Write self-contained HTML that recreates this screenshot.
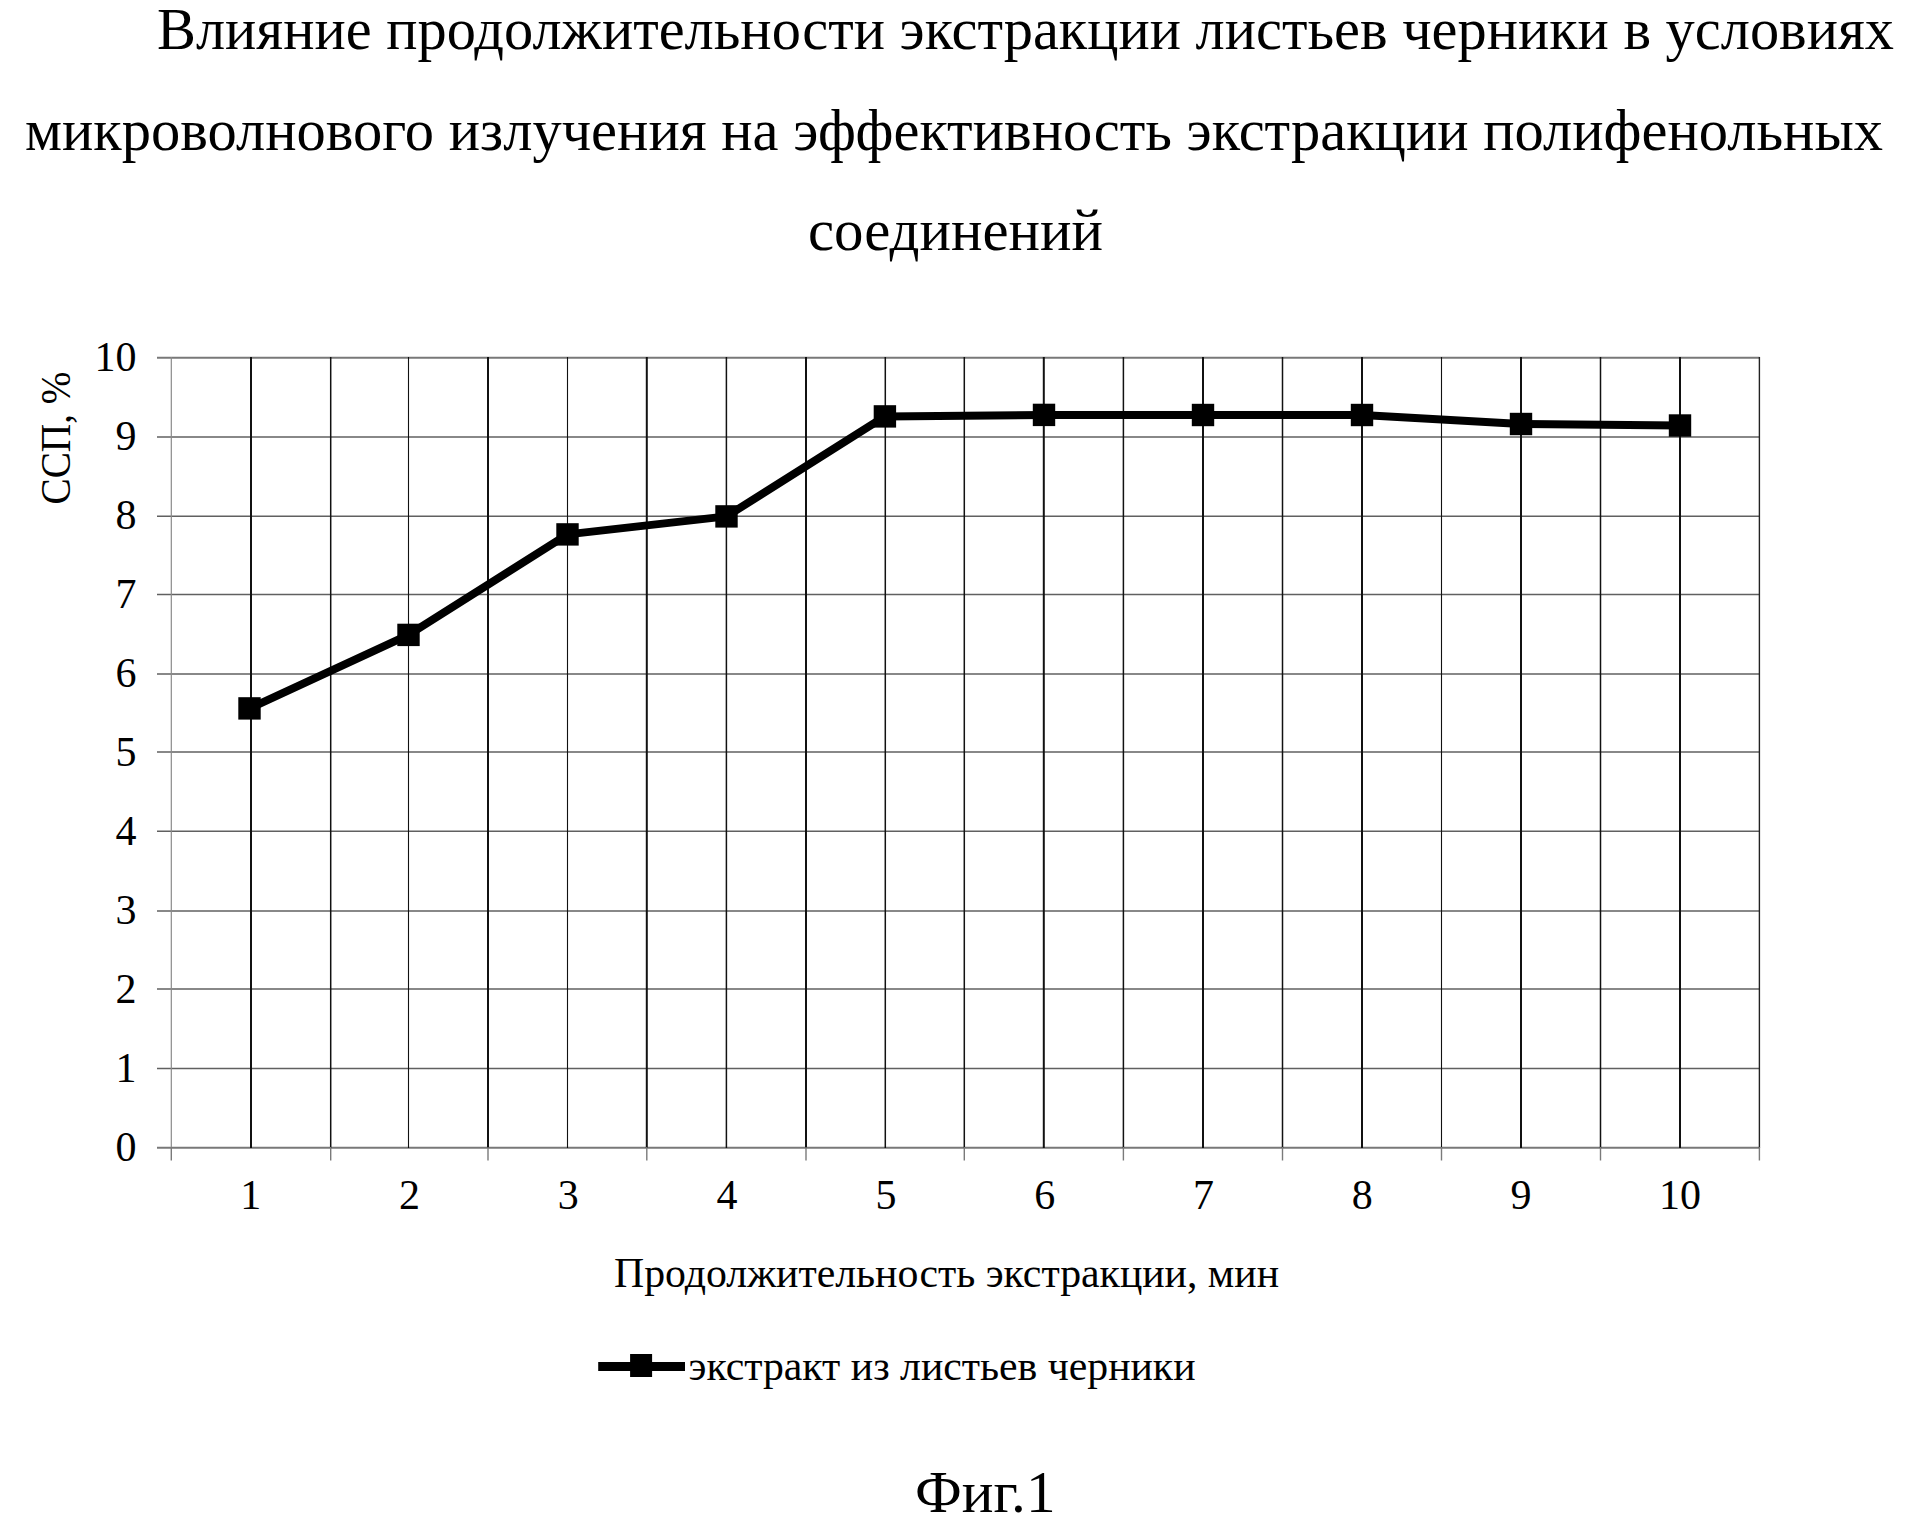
<!DOCTYPE html><html><head><meta charset="utf-8"><style>html,body{margin:0;padding:0;background:#fff;overflow:hidden;width:1908px;height:1524px;}svg{display:block;}text{font-family:"Liberation Serif",serif;fill:#000;}</style></head><body>
<svg width="1908" height="1524" viewBox="0 0 1908 1524">
<rect x="0" y="0" width="1908" height="1524" fill="#fff"/>
<text x="157" y="48.6" font-size="58.5" textLength="1737" lengthAdjust="spacingAndGlyphs">Влияние продолжительности экстракции листьев черники в условиях</text>
<text x="25" y="149.8" font-size="58.5" textLength="1858" lengthAdjust="spacingAndGlyphs">микроволнового излучения на эффективность экстракции полифенольных</text>
<text x="808" y="249.7" font-size="58.5" textLength="295" lengthAdjust="spacingAndGlyphs">соединений</text>
<line x1="157" y1="1147.80" x2="1759.5" y2="1147.80" stroke="#787878" stroke-width="2"/>
<line x1="157" y1="1068.50" x2="1759.5" y2="1068.50" stroke="#606060" stroke-width="1.5"/>
<line x1="157" y1="988.90" x2="1759.5" y2="988.90" stroke="#606060" stroke-width="1.5"/>
<line x1="157" y1="910.90" x2="1759.5" y2="910.90" stroke="#606060" stroke-width="1.5"/>
<line x1="157" y1="831.30" x2="1759.5" y2="831.30" stroke="#606060" stroke-width="1.5"/>
<line x1="157" y1="752.00" x2="1759.5" y2="752.00" stroke="#606060" stroke-width="1.5"/>
<line x1="157" y1="674.00" x2="1759.5" y2="674.00" stroke="#606060" stroke-width="1.5"/>
<line x1="157" y1="594.50" x2="1759.5" y2="594.50" stroke="#606060" stroke-width="1.5"/>
<line x1="157" y1="516.30" x2="1759.5" y2="516.30" stroke="#606060" stroke-width="1.5"/>
<line x1="157" y1="437.00" x2="1759.5" y2="437.00" stroke="#606060" stroke-width="1.5"/>
<line x1="157" y1="357.70" x2="1759.5" y2="357.70" stroke="#787878" stroke-width="2"/>
<line x1="171.30" y1="357" x2="171.30" y2="1148.8" stroke="#8a8a8a" stroke-width="1.2"/>
<line x1="251.00" y1="357" x2="251.00" y2="1148" stroke="#111" stroke-width="2"/>
<line x1="330.70" y1="357" x2="330.70" y2="1148" stroke="#111" stroke-width="1.5"/>
<line x1="408.50" y1="357" x2="408.50" y2="1148" stroke="#111" stroke-width="1.1"/>
<line x1="488.00" y1="357" x2="488.00" y2="1148" stroke="#111" stroke-width="2"/>
<line x1="567.50" y1="357" x2="567.50" y2="1148" stroke="#111" stroke-width="1.1"/>
<line x1="646.80" y1="357" x2="646.80" y2="1148" stroke="#111" stroke-width="2"/>
<line x1="726.40" y1="357" x2="726.40" y2="1148" stroke="#111" stroke-width="1.5"/>
<line x1="806.00" y1="357" x2="806.00" y2="1148" stroke="#111" stroke-width="2"/>
<line x1="885.30" y1="357" x2="885.30" y2="1148" stroke="#111" stroke-width="1.5"/>
<line x1="964.30" y1="357" x2="964.30" y2="1148" stroke="#111" stroke-width="1.5"/>
<line x1="1043.80" y1="357" x2="1043.80" y2="1148" stroke="#111" stroke-width="2"/>
<line x1="1123.40" y1="357" x2="1123.40" y2="1148" stroke="#111" stroke-width="1.5"/>
<line x1="1203.00" y1="357" x2="1203.00" y2="1148" stroke="#111" stroke-width="2"/>
<line x1="1282.50" y1="357" x2="1282.50" y2="1148" stroke="#111" stroke-width="1.5"/>
<line x1="1362.00" y1="357" x2="1362.00" y2="1148" stroke="#111" stroke-width="2"/>
<line x1="1441.50" y1="357" x2="1441.50" y2="1148" stroke="#111" stroke-width="1.1"/>
<line x1="1521.00" y1="357" x2="1521.00" y2="1148" stroke="#111" stroke-width="2"/>
<line x1="1600.50" y1="357" x2="1600.50" y2="1148" stroke="#111" stroke-width="1.5"/>
<line x1="1680.00" y1="357" x2="1680.00" y2="1148" stroke="#111" stroke-width="2"/>
<line x1="1759.40" y1="357" x2="1759.40" y2="1148" stroke="#222" stroke-width="1.4"/>
<line x1="171.30" y1="1147" x2="171.30" y2="1160.5" stroke="#7a7a7a" stroke-width="1.4"/>
<line x1="330.70" y1="1147" x2="330.70" y2="1160.5" stroke="#7a7a7a" stroke-width="1.4"/>
<line x1="488.00" y1="1147" x2="488.00" y2="1160.5" stroke="#7a7a7a" stroke-width="1.4"/>
<line x1="646.80" y1="1147" x2="646.80" y2="1160.5" stroke="#7a7a7a" stroke-width="1.4"/>
<line x1="806.00" y1="1147" x2="806.00" y2="1160.5" stroke="#7a7a7a" stroke-width="1.4"/>
<line x1="964.30" y1="1147" x2="964.30" y2="1160.5" stroke="#7a7a7a" stroke-width="1.4"/>
<line x1="1123.40" y1="1147" x2="1123.40" y2="1160.5" stroke="#7a7a7a" stroke-width="1.4"/>
<line x1="1282.50" y1="1147" x2="1282.50" y2="1160.5" stroke="#7a7a7a" stroke-width="1.4"/>
<line x1="1441.50" y1="1147" x2="1441.50" y2="1160.5" stroke="#7a7a7a" stroke-width="1.4"/>
<line x1="1600.50" y1="1147" x2="1600.50" y2="1160.5" stroke="#7a7a7a" stroke-width="1.4"/>
<line x1="1759.40" y1="1147" x2="1759.40" y2="1160.5" stroke="#7a7a7a" stroke-width="1.4"/>
<polyline fill="none" stroke="#000" stroke-width="8" stroke-linejoin="round" points="249.5,708.4 408.5,634.9 567.5,534.4 726.5,516.4 884.9,416.4 1044,414.9 1203,415 1362,415 1521,424 1680,425.5"/>
<rect x="238.3" y="697.2" width="22.4" height="22.4" fill="#000"/>
<rect x="397.3" y="623.7" width="22.4" height="22.4" fill="#000"/>
<rect x="556.3" y="523.2" width="22.4" height="22.4" fill="#000"/>
<rect x="715.3" y="505.2" width="22.4" height="22.4" fill="#000"/>
<rect x="873.7" y="405.2" width="22.4" height="22.4" fill="#000"/>
<rect x="1032.8" y="403.7" width="22.4" height="22.4" fill="#000"/>
<rect x="1191.8" y="403.8" width="22.4" height="22.4" fill="#000"/>
<rect x="1350.8" y="403.8" width="22.4" height="22.4" fill="#000"/>
<rect x="1509.8" y="412.8" width="22.4" height="22.4" fill="#000"/>
<rect x="1668.8" y="414.3" width="22.4" height="22.4" fill="#000"/>
<text x="136.5" y="1161.1" font-size="42" text-anchor="end">0</text>
<text x="136.5" y="1082.1" font-size="42" text-anchor="end">1</text>
<text x="136.5" y="1003.1" font-size="42" text-anchor="end">2</text>
<text x="136.5" y="924.1" font-size="42" text-anchor="end">3</text>
<text x="136.5" y="845.1" font-size="42" text-anchor="end">4</text>
<text x="136.5" y="766.0" font-size="42" text-anchor="end">5</text>
<text x="136.5" y="687.0" font-size="42" text-anchor="end">6</text>
<text x="136.5" y="608.0" font-size="42" text-anchor="end">7</text>
<text x="136.5" y="529.0" font-size="42" text-anchor="end">8</text>
<text x="136.5" y="450.0" font-size="42" text-anchor="end">9</text>
<text x="136.5" y="371.0" font-size="42" text-anchor="end">10</text>
<text x="250.7" y="1209" font-size="42" text-anchor="middle">1</text>
<text x="409.5" y="1209" font-size="42" text-anchor="middle">2</text>
<text x="568.3" y="1209" font-size="42" text-anchor="middle">3</text>
<text x="727.1" y="1209" font-size="42" text-anchor="middle">4</text>
<text x="885.9" y="1209" font-size="42" text-anchor="middle">5</text>
<text x="1044.7" y="1209" font-size="42" text-anchor="middle">6</text>
<text x="1203.5" y="1209" font-size="42" text-anchor="middle">7</text>
<text x="1362.3" y="1209" font-size="42" text-anchor="middle">8</text>
<text x="1521.1" y="1209" font-size="42" text-anchor="middle">9</text>
<text x="1679.9" y="1209" font-size="42" text-anchor="middle">10</text>
<text x="614" y="1286.7" font-size="42" textLength="665" lengthAdjust="spacingAndGlyphs">Продолжительность экстракции, мин</text>
<text transform="translate(69.7,504.5) rotate(-90)" font-size="42" textLength="133" lengthAdjust="spacingAndGlyphs">ССП, %</text>
<line x1="598.2" y1="1366.4" x2="685" y2="1366.4" stroke="#000" stroke-width="9"/>
<rect x="630.1" y="1354" width="22" height="23" fill="#000"/>
<text x="688.5" y="1380.4" font-size="42" textLength="507" lengthAdjust="spacingAndGlyphs">экстракт из листьев черники</text>
<text x="915" y="1511.7" font-size="58.5" textLength="140.5" lengthAdjust="spacingAndGlyphs">Фиг.1</text>
</svg></body></html>
